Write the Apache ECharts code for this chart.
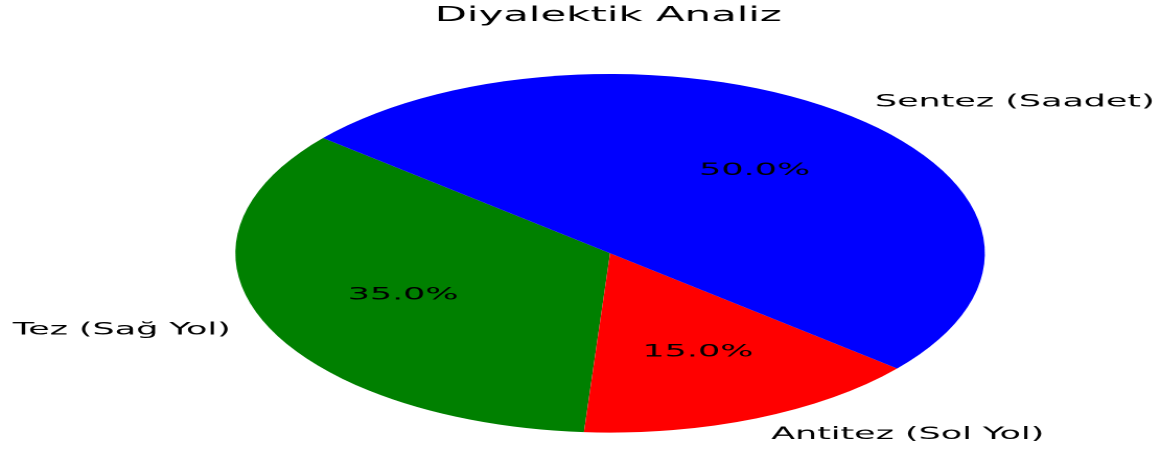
<!DOCTYPE html>
<html>
<head>
<meta charset="utf-8">
<script src="https://cdn.jsdelivr.net/npm/echarts@6/dist/echarts.min.js"></script>
<style>
  html, body { margin: 0; padding: 0; background: #fff; overflow: hidden; width: 1166px; height: 453px; }
  #chart { position: absolute; left: 0; top: 0; width: 558px; height: 453px; transform: scaleX(2.09); transform-origin: 0 0; }
</style>
</head>
<body>
<div id="chart"></div>
<script>
// Data
const titleText = 'Diyalektik Analiz';
const categories = ['Tez (Sağ Yol)', 'Antitez (Sol Yol)', 'Sentez (Saadet)'];
const values = [35, 15, 50];
const sliceColors = ['#008000', '#ff0000', '#0000ff'];

const R = 179.3;             // pie radius (unscaled px)
const CX = 291.9, CY = 253.3; // pie centre (unscaled px)
const FONT = 'DejaVu Sans';

const chart = echarts.init(document.getElementById('chart'), null, { renderer: 'canvas', devicePixelRatio: 2 });

const mainData = categories.map((c, i) => ({ name: c, value: values[i], itemStyle: { color: sliceColors[i] } }));
const pctData = categories.map((c, i) => ({ name: c, value: values[i] }));

chart.setOption({
  animation: false,
  backgroundColor: '#ffffff',
  title: {
    text: titleText,
    left: 208,
    top: 6,
    padding: 0,
    textStyle: { fontFamily: FONT, fontSize: 20, fontWeight: 'normal', color: '#000' }
  },
  series: [
    {
      type: 'pie',
      center: [CX, CY],
      radius: [0, R],
      startAngle: 140,
      clockwise: false,
      avoidLabelOverlap: false,
      silent: true,
      itemStyle: { borderWidth: 0 },
      label: {
        show: true,
        position: 'outside',
        distanceToLabelLine: 0,
        formatter: '{b}',
        fontFamily: FONT,
        fontSize: 16.7,
        color: '#000',
        padding: [4, 0, 0, 0]
      },
      labelLine: { show: false, length: 0.1 * R, length2: 0 },
      emphasis: { disabled: true },
      data: mainData
    },
    {
      type: 'pie',
      center: [CX, CY],
      radius: [0, 2 * (0.6 * R - 3)],
      startAngle: 140,
      clockwise: false,
      avoidLabelOverlap: false,
      silent: true,
      itemStyle: { color: 'rgba(0,0,0,0)', borderWidth: 0 },
      label: {
        show: true,
        position: 'inner',
        formatter: p => p.percent.toFixed(1) + '%',
        fontFamily: FONT,
        fontSize: 16.7,
        color: '#000',
        padding: [4, 0, 0, 0]
      },
      labelLine: { show: false },
      emphasis: { disabled: true },
      data: pctData
    }
  ]
});
</script>
</body>
</html>
